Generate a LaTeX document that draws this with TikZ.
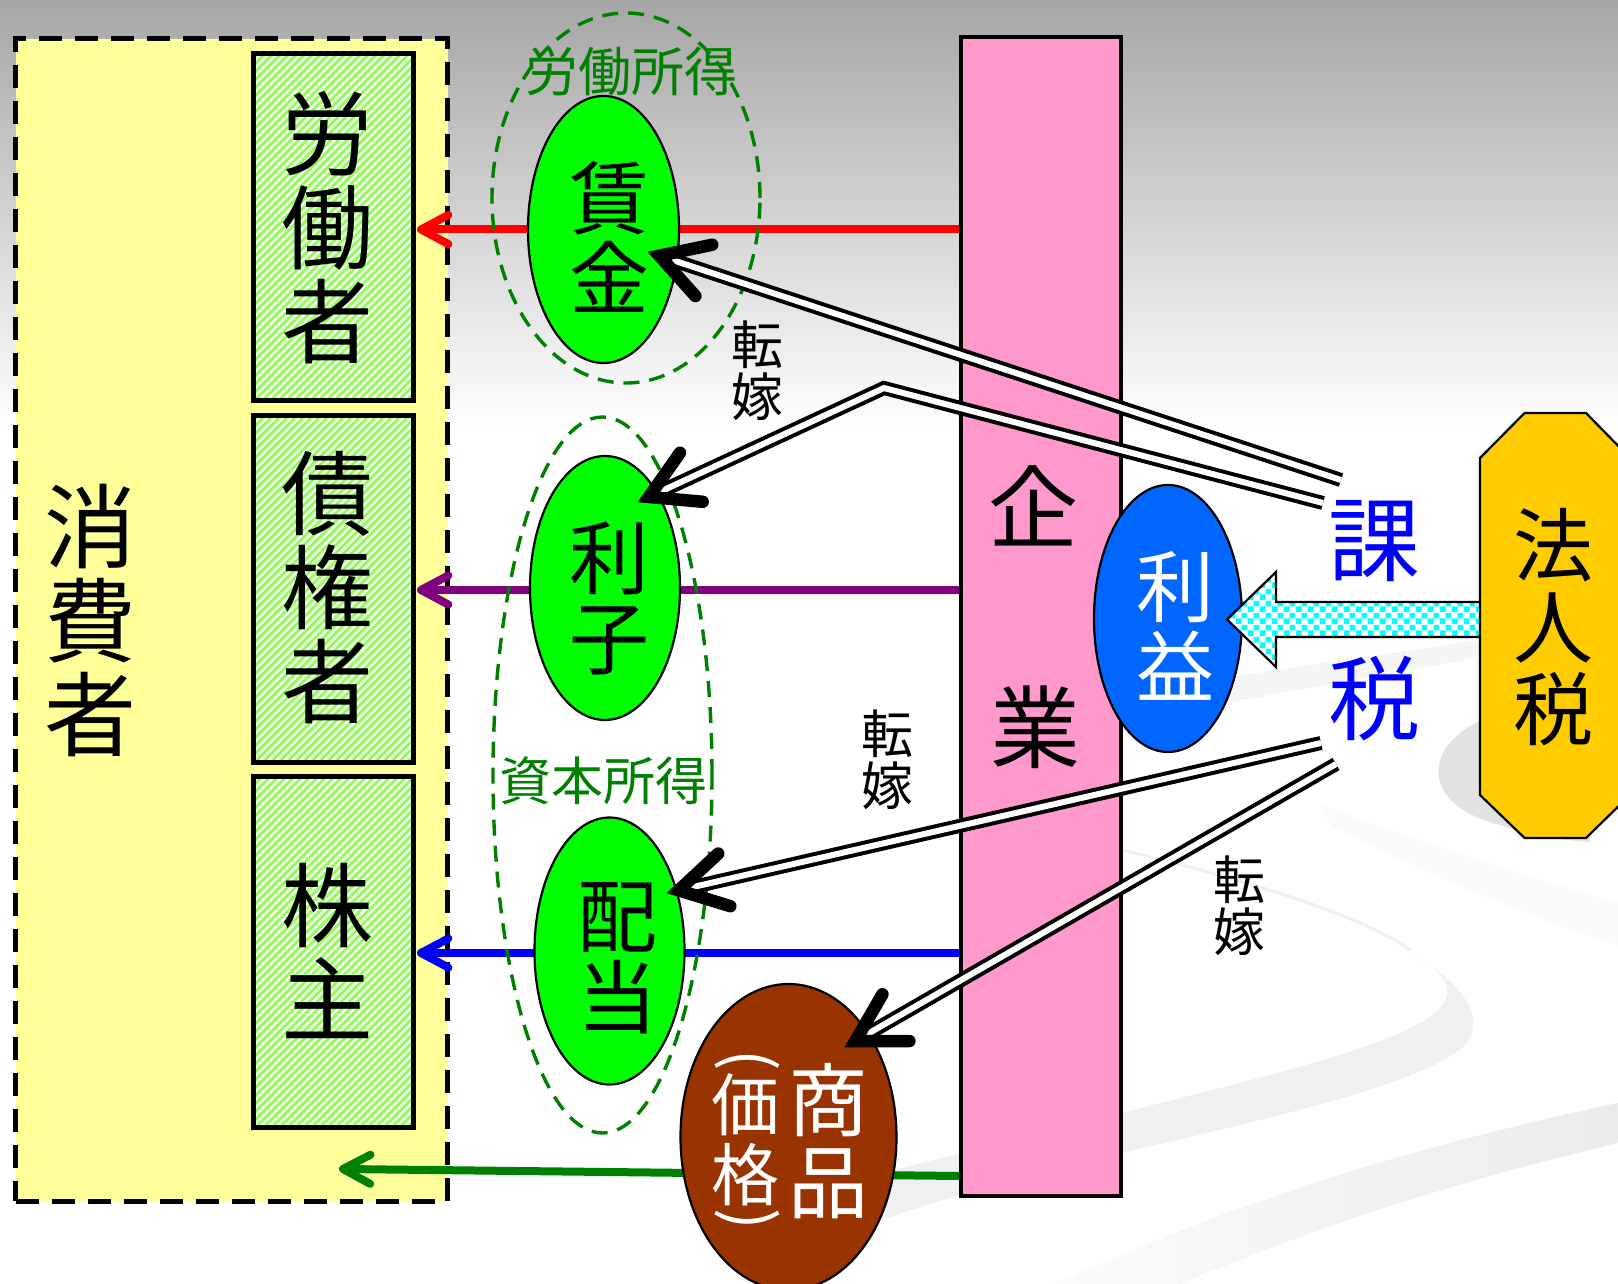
\documentclass[tikz,border=0pt]{standalone}
\usepackage{fontspec}
\newfontfamily\jp{Noto Sans CJK JP}
\usetikzlibrary{calc,patterns,shapes.geometric}
\definecolor{bgtop}{RGB}{166,166,166}
\definecolor{consY}{RGB}{255,255,153}
\definecolor{hatchG}{RGB}{153,250,102}
\definecolor{firmP}{RGB}{255,153,204}
\definecolor{ellG}{RGB}{0,255,0}
\definecolor{ellB}{RGB}{0,102,255}
\definecolor{ellBr}{RGB}{153,51,0}
\definecolor{octY}{RGB}{255,204,0}
\definecolor{dkG}{RGB}{0,128,0}
\definecolor{purp}{RGB}{128,0,128}
\definecolor{swooshC}{RGB}{226,226,226}
\definecolor{checkC}{RGB}{0,255,255}
\pgfdeclarepatternformonly{bigcheck}{\pgfpointorigin}{\pgfqpoint{12pt}{12pt}}{\pgfqpoint{12pt}{12pt}}{%
  \pgfpathrectangle{\pgfpointorigin}{\pgfqpoint{6pt}{6pt}}%
  \pgfpathrectangle{\pgfqpoint{6pt}{6pt}}{\pgfqpoint{6pt}{6pt}}%
  \pgfusepath{fill}}
\newcommand\fss[2]{\fontsize{#1pt}{#2pt}\selectfont}
\newcommand\vhead[5]{\draw[#1] ($(#2)!#4!#5:(#3)$) -- (#2) -- ($(#2)!#4!-#5:(#3)$);}
\begin{document}
\begin{tikzpicture}[x=1pt,y=-1pt,
  jptxt/.style={inner sep=0pt, align=center},
  consbox/.style={rectangle, fill=consY, draw=black, line width=5pt, dash pattern=on 23pt off 13pt, minimum width=432pt, minimum height=1162pt, inner sep=0pt},
  workerbox/.style={rectangle, fill=hatchG, draw=black, line width=5pt, minimum width=160pt, inner sep=0pt,
     path picture={\foreach \k in {0,8,...,560} {\draw[white, line width=2.4pt] ($(path picture bounding box.south west)+(\k-370,0)$) -- ++(370,-370);}}},
  firmbox/.style={rectangle, fill=firmP, draw=black, line width=4pt, minimum width=160pt, minimum height=1159pt, inner sep=0pt},
  ell/.style={ellipse, draw=black, line width=2.2pt, inner sep=0pt},
  dashell/.style={ellipse, draw=dkG, line width=3.4pt, dash pattern=on 16pt off 10pt, inner sep=0pt},
  flow/.style={line width=8pt},
  smallhead/.style={line width=8pt, line cap=round, line join=round},
  dbl/.style={draw=black, line width=4pt, double=white, double distance=6pt},
  bighead/.style={draw=black, line width=12.5pt, line cap=round, line join=miter}
]
\useasboundingbox (0,0) rectangle (1618,1284);
\clip (0,0) rectangle (1618,1284);
% background
\fill[white] (0,0) rectangle (1618,1284);
\shade[top color=bgtop, bottom color=white] (0,0) rectangle (1618,430);
\fill[gray!8] (1225,678) -- (1480,640) -- (1480,657) -- (1225,703) -- cycle;
\fill[gray!4] (1320,805) .. controls (1420,840) and (1520,875) .. (1618,903) -- (1618,945) .. controls (1520,915) and (1420,870) .. (1330,825) -- cycle;
\fill[swooshC] (1482,720) .. controls (1425,745) and (1420,800) .. (1490,822) .. controls (1530,835) and (1560,840) .. (1590,842) -- (1590,700) -- cycle;
\draw[gray!12, line width=3pt] (1090,843) .. controls (1250,878) and (1370,920) .. (1410,950);
\fill[gray!12] (1395,945) .. controls (1465,980) and (1490,1020) .. (1462,1048) .. controls (1420,1080) and (1330,1105) .. (1121,1153) .. controls (1000,1182) and (920,1205) .. (860,1228) -- (870,1176) .. controls (960,1153) and (1040,1135) .. (1121,1113) .. controls (1300,1068) and (1440,1035) .. (1447,995) .. controls (1450,975) and (1425,960) .. (1395,945) -- cycle;
\shade[left color=gray!3, right color=gray!16] (1053,1284) .. controls (1200,1220) and (1350,1160) .. (1618,1103) -- (1618,1143) .. controls (1420,1190) and (1300,1235) .. (1179,1284) -- cycle;

% consumer side
\node[consbox] (cons) at (231.8,620) {};
\node[workerbox, minimum height=346pt] (labr) at (333,227) {};
\node[workerbox, minimum height=347pt] (cred) at (333,588.5) {};
\node[workerbox, minimum height=351pt] (share) at (333.5,952) {};
\node[jptxt, font=\jp\fss{92}{94}] (consT) at (90,620) {消\\費\\者};
\node[jptxt, font=\jp\fss{92}{94}] (labrT) at (327,228) {労\\働\\者};
\node[jptxt, font=\jp\fss{92}{94}] (credT) at (327,588) {債\\権\\者};
\node[jptxt, font=\jp\fss{92}{94}] (shareT) at (327,951) {株\\主};

% firm
\node[firmbox] (firm) at (1041,616.5) {};
\node[jptxt, font=\jp\fss{90}{90}] (firmT1) at (1033,506) {企};
\node[jptxt, font=\jp\fss{90}{90}] (firmT2) at (1035,727) {業};

% flows
\coordinate (rS) at (firm.west |- 0,229.5);
\coordinate (rT) at (421,229.5);
\coordinate (pS) at (firm.west |- 0,590);
\coordinate (pT) at (421,590);
\coordinate (bS) at (firm.west |- 0,953);
\coordinate (bT) at (421,953);
\coordinate (gS) at (firm.west |- 0,1176);
\coordinate (gT) at (343,1169);
\draw[flow, red] (rS) -- (rT);
\draw[flow, purp] (pS) -- (pT);
\draw[flow, blue] (bS) -- (bT);
\draw[flow, dkG] (gS) -- (gT);
\vhead{smallhead, red}{rT}{rS}{31pt}{28}
\vhead{smallhead, purp}{pT}{pS}{31pt}{28}
\vhead{smallhead, blue}{bT}{bS}{31pt}{28}
\vhead{smallhead, dkG}{gT}{gS}{31pt}{28}

% income ellipses
\node[ell, fill=ellG, minimum width=151pt, minimum height=267pt] (wage) at (603.5,229.5) {};
\node[ell, fill=ellG, minimum width=150pt, minimum height=264pt] (intr) at (605,588) {};
\node[ell, fill=ellG, minimum width=150pt, minimum height=267pt] (divd) at (609.5,951) {};
\node[jptxt, font=\jp\fss{80}{80}] (wageT) at (609,237) {賃\\金};
\node[jptxt, font=\jp\fss{80}{80}] (intrT) at (609,598) {利\\子};
\node[jptxt, font=\jp\fss{80}{81}] (divdT) at (617,958) {配\\当};
\node[dashell, minimum width=268pt, minimum height=370pt] (laborinc) at (626,198) {};
\node[dashell, minimum width=219pt, minimum height=716pt] (capinc) at (602.5,775) {};
\node[jptxt, text=dkG, font=\jp\fss{53}{53}] (laborincT) at (631,72) {労働所得};
\node[jptxt, text=dkG, font=\jp\fss{52}{52}] (capincT) at (603,781) {資本所得};

% profit
\node[ell, fill=ellB, minimum width=148pt, minimum height=267pt] (prof) at (1168,618.5) {};
\node[jptxt, text=white, font=\jp\fss{78}{80}] (profT) at (1175,626) {利\\益};

% goods
\node[ell, fill=ellBr, minimum width=216pt, minimum height=306pt] (goods) at (788.5,1137) {};
\node[jptxt, text=white, font=\jp\fss{80}{82}] (goodsT) at (828,1141) {商\\品};
\node[jptxt, text=white, font=\jp\fss{68}{70}] (priceT) at (745,1140) {価\\格};
\node[jptxt, text=white, font=\jp\fss{64}{64}, rotate=-90] (priceL) at (747,1060) {(};
\node[jptxt, text=white, font=\jp\fss{64}{64}, rotate=-90] (priceR) at (747,1219) {)};

% corporate tax
\coordinate (cyS) at (1480,619.5);
\draw[line width=2.2pt, fill=white, path picture={\fill[pattern=bigcheck, pattern color=checkC] (path picture bounding box.south west) rectangle (path picture bounding box.north east);}]
  (cyS |- 0,602) -- (1276,602) -- (1276,572) -- (1227,619.5) -- (1276,667) -- (1276,637) -- (cyS |- 0,637);
\draw[line width=2.2pt, fill=octY] (1480,458) -- (1524.6,413) -- (1586,413) -- (1630,458) -- (1630,795) -- (1586,838) -- (1524.6,838) -- (1480,795) -- cycle;
\node[jptxt, font=\jp\fss{80}{82}] (corp) at (1553,627) {法\\人\\税};
\node[jptxt, text=blue, font=\jp\fss{92}{92}] (taxA) at (1374,541) {課};
\node[jptxt, text=blue, font=\jp\fss{92}{92}] (taxB) at (1374,699) {税};

% shifting labels
\node[jptxt, font=\jp\fss{52}{52}] (shift1) at (757,371) {転\\嫁};
\node[jptxt, font=\jp\fss{52}{52}] (shift2) at (887,760) {転\\嫁};
\node[jptxt, font=\jp\fss{52}{52}] (shift3) at (1239,906) {転\\嫁};

% shifting arrows
\coordinate (s1) at (1341,480);
\coordinate (t1) at (648,252);
\coordinate (s2) at (1323,503);
\coordinate (b2) at (884,388);
\coordinate (t2) at (638,502);
\coordinate (s3) at (1321,743);
\coordinate (t3) at (667,893);
\coordinate (s4) at (1336,764);
\coordinate (t4) at (845,1047);
\coordinate (v1) at ($(t1)!12pt!(s1)$);
\coordinate (v2) at ($(t2)!12pt!(b2)$);
\coordinate (v3) at ($(t3)!12pt!(s3)$);
\coordinate (v4) at ($(t4)!12pt!(s4)$);
\draw[dbl] (s1) -- (v1);
\draw[dbl] (s2) -- (b2) -- (v2);
\draw[dbl] (s3) -- (v3);
\draw[dbl] (s4) -- (v4);
\vhead{bighead}{v1}{s1}{54pt}{30}
\vhead{bighead}{v2}{b2}{54pt}{30}
\vhead{bighead}{v3}{s3}{54pt}{30}
\vhead{bighead}{v4}{s4}{54pt}{30}
\end{tikzpicture}
\end{document}
